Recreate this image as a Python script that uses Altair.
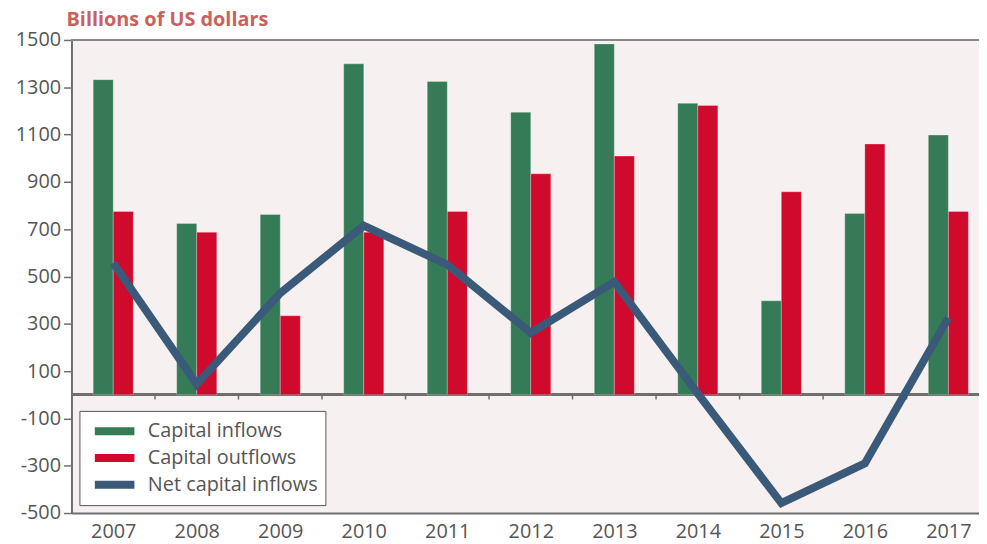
import altair as alt
import pandas as pd

years = [2007, 2008, 2009, 2010, 2011, 2012, 2013, 2014, 2015, 2016, 2017]
inflows = [1332, 724, 762, 1399, 1324, 1194, 1483, 1232, 397, 766, 1098]
outflows = [775, 687, 334, 687, 775, 934, 1009, 1223, 858, 1060, 775]
net_inflows = [557, 45, 430, 715, 550, 262, 477, 5, -458, -290, 325]
y_ticks = [-500, -300, -100, 100, 300, 500, 700, 900, 1100, 1300, 1500]
boundaries = [2007.5, 2008.5, 2009.5, 2010.5, 2011.5, 2012.5, 2013.5, 2014.5, 2015.5, 2016.5]

series_names = ["Capital inflows", "Capital outflows", "Net capital inflows"]
series_colors = ["#357b57", "#d00a2c", "#3b5a79"]
series_widths = [8, 8, 5]

bars_df = pd.DataFrame({"year": years, "Capital inflows": inflows, "Capital outflows": outflows})
net_df = pd.DataFrame({"year": years, "net": net_inflows})
bound_df = pd.DataFrame({"b": boundaries})

GRAY = "#6e6e6e"
TEXT = "#555555"

xscale = alt.Scale(domain=[2006.5, 2017.367], nice=False, zero=False)
yscale = alt.Scale(domain=[-500, 1500], nice=False, zero=False)

legend = alt.Legend(
    title=None,
    orient="none",
    legendX=8,
    legendY=374,
    fillColor="#ffffff",
    strokeColor="#555555",
    padding=7,
    symbolType="M-2.1,0H2.1",
    symbolSize=361,
    symbolStrokeWidth=8,
    symbolOffset=15,
    labelOffset=20,
    labelFontSize=20,
    labelColor=TEXT,
    labelFont="Open Sans",
    labelLimit=300,
    rowPadding=0,
    clipHeight=27,
)

color = alt.Color(
    "series:N",
    scale=alt.Scale(domain=series_names, range=series_colors),
    legend=legend,
)

bars = (
    alt.Chart(bars_df)
    .transform_fold(["Capital inflows", "Capital outflows"], as_=["series", "value"])
    .transform_calculate(
        x0="datum.year + (datum.series == 'Capital inflows' ? -0.24 : 0)",
        x1="datum.year + (datum.series == 'Capital inflows' ? 0 : 0.24)",
    )
    .mark_bar(stroke="#ffffff", strokeWidth=0.6, strokeOpacity=0.45)
    .encode(
        x=alt.X(
            "x0:Q",
            scale=xscale,
            title=None,
            axis=alt.Axis(
                values=years,
                labelExpr="'' + datum.value",
                ticks=False,
                grid=False,
                domainColor=GRAY,
                domainWidth=2,
                labelFontSize=20,
                labelColor=TEXT,
                labelPadding=9,
                labelFlush=False,
            ),
        ),
        x2="x1:Q",
        y=alt.Y(
            "value:Q",
            scale=yscale,
            title=None,
            axis=alt.Axis(
                values=y_ticks,
                labelExpr="'' + datum.value",
                grid=False,
                domainColor=GRAY,
                domainWidth=2,
                tickColor=GRAY,
                tickSize=8,
                tickWidth=1.5,
                labelFontSize=20,
                labelColor=TEXT,
                labelPadding=3,
            ),
        ),
        y2=alt.datum(0),
        color=color,
    )
)

zero_line = alt.Chart(bars_df).mark_rule(color=GRAY, strokeWidth=2).encode(y=alt.datum(0))
top_line = alt.Chart(bars_df).mark_rule(color="#888888", strokeWidth=2).encode(y=alt.datum(1500))

zero_ticks = (
    alt.Chart(bound_df)
    .mark_rule(color=GRAY, strokeWidth=1.5)
    .encode(x=alt.X("b:Q", scale=xscale), y=alt.datum(0), y2=alt.datum(-20))
)

net_line = (
    alt.Chart(net_df)
    .transform_calculate(series="'Net capital inflows'")
    .mark_line(strokeJoin="miter")
    .encode(
        x=alt.X("year:Q", scale=xscale),
        y=alt.Y("net:Q", scale=yscale),
        color=color,
        strokeWidth=alt.StrokeWidth(
            "series:N",
            scale=alt.Scale(domain=series_names, range=series_widths),
            legend=legend,
        ),
    )
)

chart = (
    alt.layer(zero_line, top_line, bars, zero_ticks, net_line)
    .properties(
        width=915,
        height=477,
        autosize=alt.AutoSizeParams(type="none"),
        padding={"left": 64, "top": 30, "right": 0, "bottom": 28},
        title=alt.TitleParams(
            "Billions of US dollars",
            anchor="start",
            frame="group",
            dx=-5,
            offset=0,
            fontSize=20,
            fontWeight="bold",
            color="#c9625c",
            font="Open Sans",
        ),
    )
    .configure(font="Open Sans")
    .configure_view(fill="#f6f0f0", stroke=None)
)

chart.save("out.html", embed_options={"renderer": "svg", "actions": False})
